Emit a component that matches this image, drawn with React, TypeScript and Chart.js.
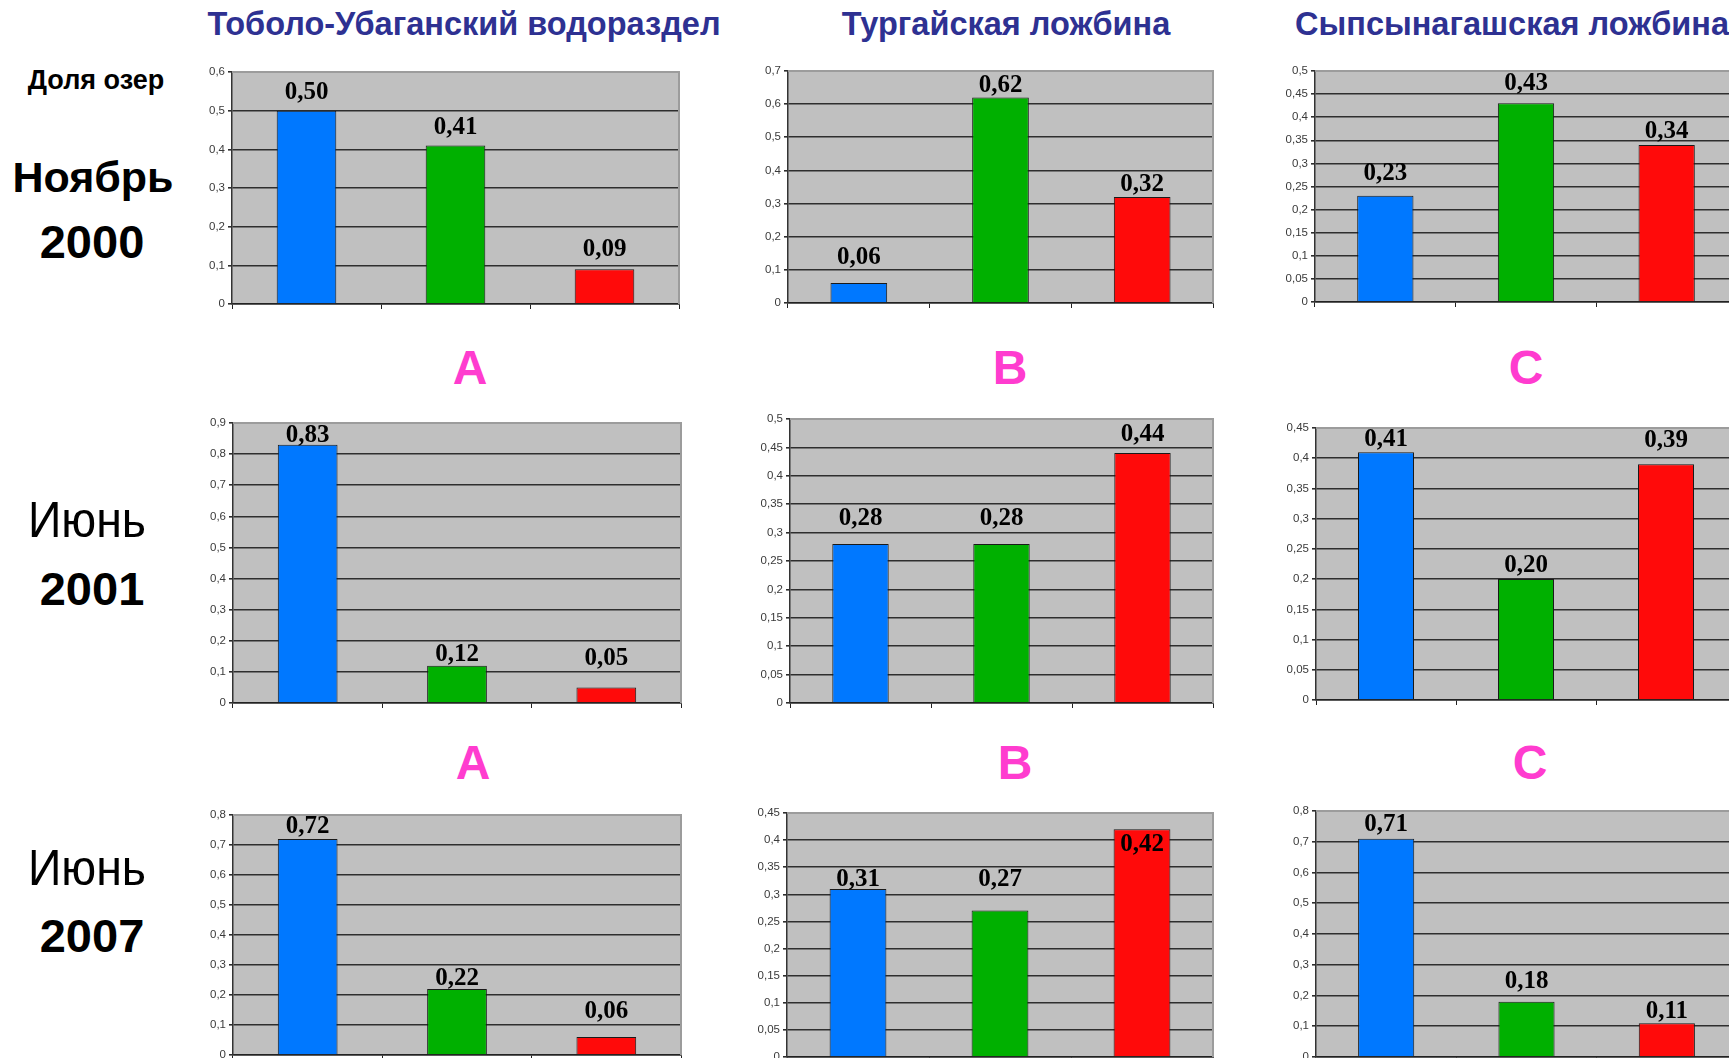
import React, { useEffect, useRef } from 'react';
import { Chart, registerables } from 'chart.js';

Chart.register(...registerables);

// ---------- data ----------
const regions = ['Тоболо-Убаганский водораздел', 'Тургайская ложбина', 'Сыпсынагашская ложбина'];
const regionLetters = ['A', 'B', 'C'];
const periodMonths = ['Ноябрь', 'Июнь', 'Июнь'];
const periodYears = ['2000', '2001', '2007'];
const yAxisTitle = 'Доля озер';
const categories = ['1', '2', '3'];

const tobolNov2000 = [0.5, 0.41, 0.09];
const turgayNov2000 = [0.06, 0.62, 0.32];
const sypsNov2000 = [0.23, 0.43, 0.34];

const tobolJun2001 = [0.83, 0.12, 0.05];
const turgayJun2001 = [0.28, 0.28, 0.44];
const sypsJun2001 = [0.41, 0.2, 0.39];

const tobolJun2007 = [0.72, 0.22, 0.06];
const turgayJun2007 = [0.31, 0.27, 0.42];
const sypsJun2007 = [0.71, 0.18, 0.11];

const yMaxNov2000 = [0.6, 0.7, 0.5];
const yStepNov2000 = [0.1, 0.1, 0.05];
const yMaxJun2001 = [0.9, 0.5, 0.45];
const yStepJun2001 = [0.1, 0.05, 0.05];
const yMaxJun2007 = [0.8, 0.45, 0.8];
const yStepJun2007 = [0.1, 0.05, 0.1];

// ---------- layout / style ----------
const barColors = ['#0078FF', '#00B000', '#FF0A0A'];
// plot-area boxes [left, right, top, bottom] per row/column
const panelBoxes = [
  [[232, 679, 72, 304], [788, 1213, 71, 303], [1315, 1737, 71, 302]],
  [[233, 681, 423, 703], [790, 1213, 419, 703], [1316, 1736, 428, 700]],
  [[233, 681, 815, 1055], [787, 1213, 813, 1057], [1316, 1737, 811, 1057]],
];
// distance (px) from bar top to data-label baseline
const labelGaps = [
  [[12, 11, 13], [19, 6, 6], [16, 13, 7]],
  [[3, 5, 22], [19, 19, 12], [6, 7, 17]],
  [[6, 4, 19], [3, 25, -22], [8, 14, 5]],
];

const rowValues = [
  [tobolNov2000, turgayNov2000, sypsNov2000],
  [tobolJun2001, turgayJun2001, sypsJun2001],
  [tobolJun2007, turgayJun2007, sypsJun2007],
];
const rowMax = [yMaxNov2000, yMaxJun2001, yMaxJun2007];
const rowStep = [yStepNov2000, yStepJun2001, yStepJun2007];

const fmtTick = (v: number) => String(Math.round(v * 100) / 100).replace('.', ',');
const fmtLabel = (v: number) => v.toFixed(2).replace('.', ',');

const PAD_L = 50;
const PAD_T = 10;
const PAD_R = 4;
const PAD_B = 14;

function Panel({ values, max, step, box, gaps }: { values: number[]; max: number; step: number; box: number[]; gaps: number[] }) {
  const ref = useRef<HTMLCanvasElement | null>(null);
  const [L, R, T, B] = box;
  const w = R - L + PAD_L + PAD_R;
  const h = B - T + PAD_T + PAD_B;

  useEffect(() => {
    if (!ref.current) return;
    const bgPlugin = {
      id: 'plotBg',
      beforeDraw(chart: any) {
        const { ctx, chartArea: a } = chart;
        ctx.save();
        ctx.fillStyle = '#C0C0C0';
        ctx.fillRect(a.left, a.top, a.right - a.left, a.bottom - a.top);
        ctx.restore();
      },
      afterDraw(chart: any) {
        const { ctx, chartArea: a } = chart;
        ctx.save();
        ctx.strokeStyle = '#9C9C9C';
        ctx.lineWidth = 2;
        ctx.beginPath();
        ctx.moveTo(a.left, a.top);
        ctx.lineTo(a.right, a.top);
        ctx.lineTo(a.right, a.bottom);
        ctx.stroke();
        ctx.restore();
      },
    };
    const labelPlugin = {
      id: 'valueLabels',
      afterDatasetsDraw(chart: any) {
        const { ctx } = chart;
        const meta = chart.getDatasetMeta(0);
        ctx.save();
        ctx.font = 'bold 25px "Liberation Serif", "Times New Roman", serif';
        ctx.fillStyle = '#000';
        ctx.textAlign = 'center';
        ctx.textBaseline = 'alphabetic';
        meta.data.forEach((el: any, i: number) => {
          ctx.fillText(fmtLabel(values[i]), el.x, el.y - gaps[i]);
        });
        ctx.restore();
      },
    };
    const chart = new Chart(ref.current, {
      type: 'bar',
      data: {
        labels: categories,
        datasets: [
          {
            data: values,
            backgroundColor: barColors,
            borderColor: '#1A1A1A',
            borderWidth: 1,
            borderSkipped: 'start',
            barPercentage: 0.4,
            categoryPercentage: 1,
          },
        ],
      },
      options: {
        animation: false,
        responsive: false,
        events: [],
        layout: { padding: { top: PAD_T, right: PAD_R, left: 0, bottom: 0 } },
        plugins: {
          legend: { display: false },
          tooltip: { enabled: false },
          title: { display: false },
        },
        scales: {
          x: {
            grid: {
              display: true,
              drawOnChartArea: false,
              drawTicks: true,
              tickLength: 5,
              color: '#222',
              lineWidth: 1,
              offset: true,
            },
            border: { display: true, color: '#222', width: 1.5 },
            ticks: { display: false },
            afterFit: (s: any) => {
              s.height = PAD_B;
            },
          },
          y: {
            min: 0,
            max,
            ticks: {
              stepSize: step,
              autoSkip: false,
              padding: 3,
              color: '#3A3A3A',
              font: { family: '"Liberation Sans", Arial, sans-serif', size: 11.5 },
              callback: (v: any) => fmtTick(Number(v)),
            },
            grid: {
              color: (c: any) => (c.tick && Math.abs(c.tick.value - max) < 1e-9 ? 'rgba(0,0,0,0)' : '#2E2E2E'),
              tickColor: '#2E2E2E',
              tickLength: 4,
              lineWidth: 1.6,
            },
            border: { display: true, color: '#333', width: 1.5 },
            afterFit: (s: any) => {
              s.width = PAD_L;
            },
          },
        },
      },
      plugins: [bgPlugin, labelPlugin],
    } as any);
    return () => chart.destroy();
  }, []);

  return (
    <canvas
      ref={ref}
      width={w}
      height={h}
      style={{ position: 'absolute', left: L - PAD_L, top: T - PAD_T, width: w, height: h }}
    />
  );
}

function Txt({ x, y, size, text, bold = true, color = '#000', align = 'center', sx = 1 }: any) {
  return (
    <div
      style={{
        position: 'absolute',
        left: x,
        top: y - 0.8465 * size,
        fontFamily: '"Liberation Sans", Arial, sans-serif',
        fontSize: size,
        lineHeight: 1,
        fontWeight: bold ? 700 : 400,
        color,
        whiteSpace: 'nowrap',
        transform: align === 'center' ? `translateX(-50%) scaleX(${sx})` : undefined,
      }}
    >
      {text}
    </div>
  );
}

const titleCenters = [464, 1006, 1512];
const letterCentersRow1 = [470, 1010, 1526];
const letterCentersRow2 = [473, 1015, 1530];
const monthBaselines = [192, 537, 885];
const yearBaselines = [258, 605, 952];

export default function App() {
  return (
    <div
      style={{
        position: 'fixed',
        left: 0,
        top: 0,
        width: 1729,
        height: 1058,
        overflow: 'hidden',
        background: '#fff',
      }}
    >
      {regions.map((r, i) => (
        <Txt key={'t' + i} x={titleCenters[i]} y={36} size={32.5} text={r} color="#2E3192" />
      ))}
      <Txt x={96} y={90} size={27} text={yAxisTitle} />
      {periodMonths.map((m, i) => (
        <Txt
          key={'m' + i}
          x={i === 0 ? 93 : 87}
          y={monthBaselines[i]}
          size={i === 0 ? 43 : 50}
          bold={i === 0}
          sx={i === 0 ? 1 : 0.93}
          text={m}
        />
      ))}
      {periodYears.map((yv, i) => (
        <Txt key={'y' + i} x={92} y={yearBaselines[i]} size={47} text={yv} />
      ))}
      {regionLetters.map((l, i) => (
        <Txt key={'l1' + i} x={letterCentersRow1[i]} y={385} size={48} text={l} color="#FF3CCF" />
      ))}
      {regionLetters.map((l, i) => (
        <Txt key={'l2' + i} x={letterCentersRow2[i]} y={780} size={48} text={l} color="#FF3CCF" />
      ))}
      {rowValues.map((row, ri) =>
        row.map((vals, ci) => (
          <Panel
            key={ri + '-' + ci}
            values={vals}
            max={rowMax[ri][ci]}
            step={rowStep[ri][ci]}
            box={panelBoxes[ri][ci]}
            gaps={labelGaps[ri][ci]}
          />
        ))
      )}
    </div>
  );
}
